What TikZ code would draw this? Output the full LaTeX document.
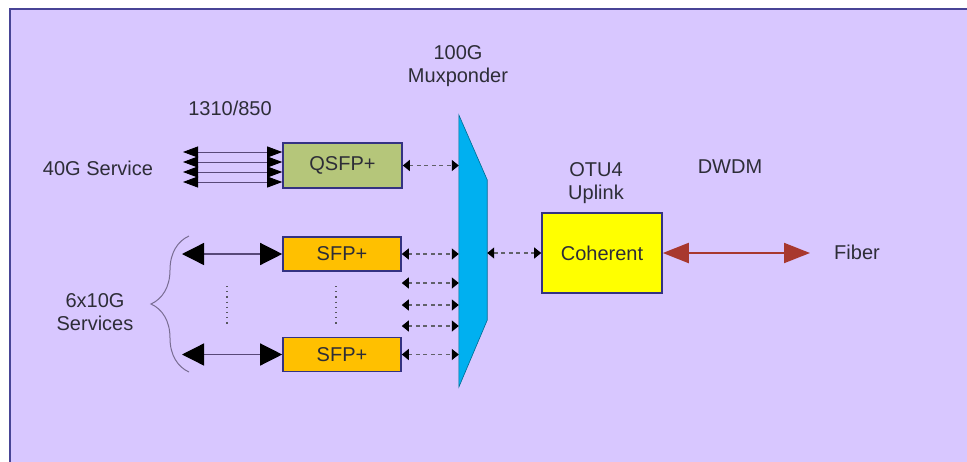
\documentclass[tikz,border=0pt]{standalone}
\usepackage{fontspec}
\setmainfont{Liberation Sans}
\usetikzlibrary{arrows.meta,calc,decorations.pathreplacing}

\definecolor{bgpurple}{RGB}{216,199,255}
\definecolor{framblue}{RGB}{72,68,150}
\definecolor{boxblue}{RGB}{52,50,130}
\definecolor{textgray}{RGB}{45,45,55}
\definecolor{qsfpgreen}{RGB}{181,198,122}
\definecolor{sfporange}{RGB}{255,192,0}
\definecolor{cohyellow}{RGB}{255,255,0}
\definecolor{muxcyan}{RGB}{0,176,240}
\definecolor{fiberred}{RGB}{168,56,46}
\definecolor{linepurple}{RGB}{88,72,120}

\begin{document}
\begin{tikzpicture}[x=1pt, y=-1pt,
    every node/.style={font=\fontsize{20}{23}\selectfont, text=textgray},
    label/.style={align=center, inner sep=0pt},
    module/.style={rectangle, draw=boxblue, line width=1.6pt, inner sep=0pt, align=center},
    frame/.style={draw=framblue, fill=bgpurple, line width=2.5pt},
    muxshape/.style={fill=muxcyan, draw=muxcyan!60!black, line width=0.6pt},
    qline/.style={{Triangle[length=15pt,width=11pt,color=black]}-{Triangle[length=15pt,width=11pt,color=black]}, draw=linepurple, line width=0.8pt},
    sarrow/.style={{Triangle[length=22pt,width=22pt,color=black]}-{Triangle[length=22pt,width=22pt,color=black]}, draw=linepurple, line width=1.3pt},
    darrow/.style={{Triangle[length=7pt,width=11pt,color=black]}-{Triangle[length=7pt,width=11pt,color=black]}, draw=textgray!75, line width=1.3pt, dash pattern=on 4pt off 3.5pt},
    redarrow/.style={{Triangle[length=26pt,width=20pt]}-{Triangle[length=26pt,width=20pt]}, draw=fiberred, line width=2pt},
    dots/.style={draw=textgray!80, line width=1.2pt, dash pattern=on 1.2pt off 4pt}
]
    % Background
    \useasboundingbox (0,0) rectangle (967,461);
    \fill[white] (0,0) rectangle (967,461);
    \clip (0,0) rectangle (967,461);
    \draw[frame] (10,9) rectangle (1000,500);

    % Labels
    \node[label] (mtitle) at (458,66) {100G\\Muxponder};
    \node[label] (wave) at (230,108) {1310/850};
    \node[label] (svc40) at (98,168) {40G Service};
    \node[label] (svc10) at (95,312) {6x10G\\Services};
    \node[label] (otu) at (596,183) {OTU4\\Uplink};
    \node[label] (dwdm) at (730,167) {DWDM};
    \node[label] (fiber) at (857,252) {Fiber};

    % Modules
    \node[module, fill=qsfpgreen, minimum width=119, minimum height=45] (qsfp) at (342.5,165.5) {QSFP+};
    \node[module, fill=sfporange, minimum width=118, minimum height=34] (sfp1) at (342,254) {SFP+};
    \node[module, fill=sfporange, minimum width=118, minimum height=34] (sfp2) at (342,354.5) {SFP+};
    \node[module, fill=cohyellow, minimum width=120, minimum height=80] (coh) at (602,253) {Coherent};

    % Muxponder
    \node[draw=none, minimum width=28, minimum height=272, inner sep=0pt] (mux) at (473,251) {};
    \draw[muxshape] (mux.north west) -- ([yshift=-65pt]mux.north east)
        -- ([yshift=67pt]mux.south east) -- (mux.south west) -- cycle;

    % Client side
    \coordinate (q40) at (183,167);
    \coordinate (s1) at (182,254);
    \coordinate (s2) at (182,354.5);
    \foreach \s in {-15,-5,5,15}
        \draw[qline] ($(q40)+(0,\s)$) -- ($(q40 -| qsfp.west)+(0,\s)$);
    \draw[sarrow] (s1) -- (sfp1.west);
    \draw[sarrow] (s2) -- (sfp2.west);
    \draw[dots] (227,286) -- (227,327);
    \draw[dots] (336,286) -- (336,327);
    \draw[decorate, decoration={brace, amplitude=38pt}, draw=linepurple!80, line width=1pt]
        (189,372) -- (189,236);

    % Arrows to muxponder
    \draw[darrow] (qsfp.east) -- (qsfp.east -| mux.west);
    \draw[darrow] (sfp1.east) -- (sfp1.east -| mux.west);
    \foreach \y in {283,305,326}
        \draw[darrow] (sfp1.east |- 0,\y) -- (mux.west |- 0,\y);
    \draw[darrow] (sfp2.east) -- (sfp2.east -| mux.west);

    % Line side
    \coordinate (fib) at (810,253);
    \draw[darrow] (mux.east |- coh.west) -- (coh.west);
    \draw[redarrow] (coh.east) -- (fib);
\end{tikzpicture}
\end{document}
